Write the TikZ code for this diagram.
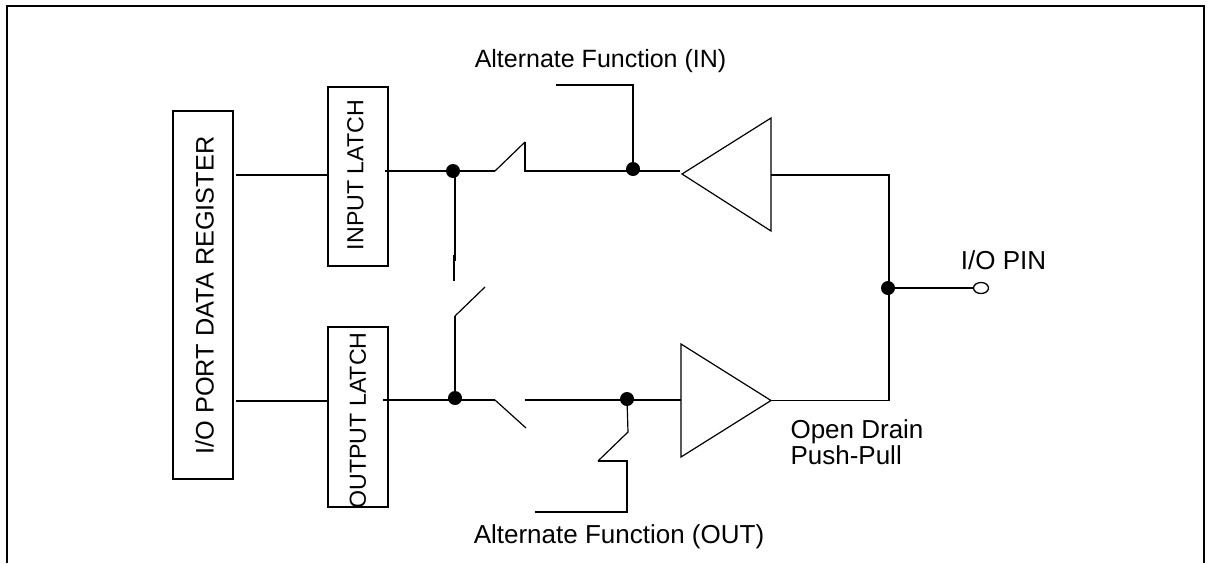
\documentclass[tikz,border=0pt]{standalone}
\usepackage{fontspec}
\setmainfont{Liberation Sans}
\usepackage{tikz}
\usetikzlibrary{positioning,shapes.geometric}

\tikzset{
  wire/.style={line width=1.8pt},
  thinwire/.style={line width=1.2pt},
  latch/.style={draw,line width=1.8pt,inner sep=0pt,minimum width=60pt},
  vtext/.style={rotate=90,inner sep=0pt,font=\fontsize{23.2}{26}\selectfont},
  lbl/.style={inner sep=0pt,font=\fontsize{26}{26}\selectfont},
  lblin/.style={inner sep=0pt,font=\fontsize{25}{26}\selectfont},
  dot/.style={circle,fill=black,inner sep=0pt,minimum size=14pt},
  pin/.style={draw,ellipse,line width=1.3pt,inner sep=0pt,minimum width=15pt,minimum height=11pt}
}

\begin{document}
\begin{tikzpicture}[x=1pt,y=-1pt]
  \useasboundingbox (0,0) rectangle (1211,563);
  % frame
  \coordinate (f_a) at (7,563);
  \coordinate (f_b) at (7,6);
  \coordinate (f_c) at (1204,6);
  \coordinate (f_d) at (1204,563);
  \draw[wire] (f_a) -- (f_b) -- (f_c) -- (f_d);

  \node [latch,minimum height=368pt] (reg) at (203,295) {};
  \node [latch,minimum height=179pt] (in_latch) at (358,176.5) {};
  \node [latch,minimum height=180pt] (out_latch) at (358,417) {};
  \node [vtext,font=\fontsize{25.3}{26}\selectfont] (reg_text) at (204.5,295.5) {I/O PORT DATA REGISTER};
  \node [vtext] (in_text) at (355.5,175) {INPUT LATCH};
  \node [vtext] (out_text) at (358,420.5) {OUTPUT LATCH};

  \node [dot] (d_in) at (453,171) {};
  \node [dot] (d_af) at (633,169) {};
  \node [dot] (d_out) at (455,398) {};
  \node [dot] (d_oaf) at (627,399) {};
  \node [dot] (d_pin) at (888,288) {};
  \node [pin] (io_pin) at (981,288) {};

  % upper buffer
  \coordinate (t1_tip) at (682,174);
  \coordinate (t1_a) at (771,118);
  \coordinate (t1_b) at (771,231);
  \draw[thinwire] (t1_tip) -- (t1_a) -- (t1_b) -- cycle;
  % lower buffer
  \coordinate (t2_a) at (681,344);
  \coordinate (t2_tip) at (771,400.5);
  \coordinate (t2_b) at (681,457);
  \draw[thinwire] (t2_a) -- (t2_tip) -- (t2_b) -- cycle;

  % upper row
  \coordinate (reg_in) at (236,175);
  \coordinate (latch_in) at (385,171);
  \coordinate (sw1_a) at (495,171);
  \coordinate (sw1_b) at (525,142);
  \coordinate (sw1_c) at (525,171);
  \coordinate (buf_in) at (680,171);
  \coordinate (af_end) at (556,85);
  \coordinate (af_corner) at (633,85);
  \draw[wire] (reg_in) -- (in_latch.west |- reg_in);
  \draw[wire] (latch_in) -- (d_in) -- (sw1_a);
  \draw[thinwire] (sw1_a) -- (sw1_b);
  \draw[wire] (sw1_b) -- (sw1_c) -- (buf_in);
  \draw[wire] (af_end) -- (af_corner) -- (d_af);

  % lower row
  \coordinate (reg_out) at (236,401);
  \coordinate (latch_out) at (383,400);
  \coordinate (sw2_a) at (495,400);
  \coordinate (sw2_b) at (526,428);
  \coordinate (sw2_c) at (525,400);
  \coordinate (oaf_a) at (628,432);
  \coordinate (oaf_b) at (598,461);
  \coordinate (oaf_c) at (627,461);
  \coordinate (oaf_d) at (627,512);
  \coordinate (oaf_end) at (535,512);
  \draw[wire] (reg_out) -- (out_latch.west |- reg_out);
  \draw[wire] (latch_out) -- (sw2_a);
  \draw[thinwire] (sw2_a) -- (sw2_b);
  \draw[wire] (sw2_c) -- (t2_a |- sw2_c);
  \draw[thinwire] (d_oaf) -- (oaf_a) -- (oaf_b);
  \draw[wire] (oaf_b) -- (oaf_c) -- (oaf_d) -- (oaf_end);

  % link between the rows
  \coordinate (lk_t) at (455,171);
  \coordinate (lk_m) at (455,261);
  \coordinate (lk_a) at (454,255);
  \coordinate (lk_b) at (454,281);
  \coordinate (lk_c) at (455,316);
  \coordinate (lk_d) at (485,287);
  \draw[wire] (lk_t) -- (lk_m);
  \draw[wire] (lk_a) -- (lk_b);
  \draw[thinwire] (lk_c) -- (lk_d);
  \draw[wire] (lk_c) -- (d_out);

  % output side
  \coordinate (o_a) at (889,175);
  \coordinate (o_b) at (889,400.5);
  \draw[wire] (t1_a |- o_a) -- (o_a) -- (o_b) -- (t2_tip);
  \draw[wire] (d_pin) -- (io_pin);

  \node [lblin] (af_in) at (600.5,61) {Alternate Function (IN)};
  \node [lbl] (af_out) at (619,537) {Alternate Function (OUT)};
  \node [lbl] (pin_text) at (1003.5,260) {I/O PIN};
  \node [lbl,align=left] (drain) at (857,442) {Open Drain\\Push-Pull};
\end{tikzpicture}
\end{document}
